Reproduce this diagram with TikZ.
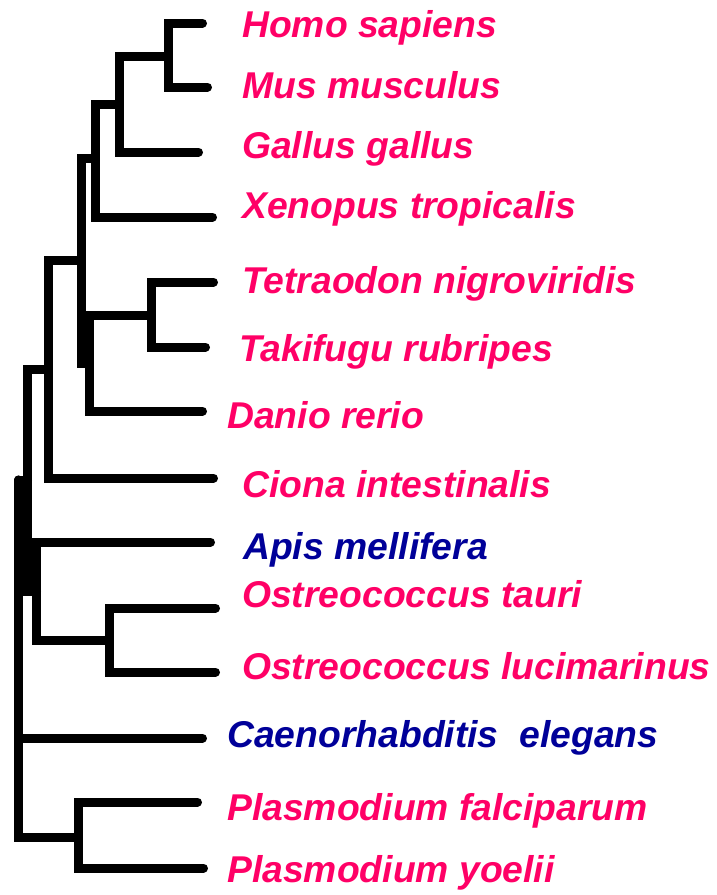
\documentclass[tikz,border=0pt]{standalone}
\usepackage{fontspec}
\setmainfont{Liberation Sans}
\usepackage{xcolor}
\usepackage{tikz}
\definecolor{taxpink}{HTML}{FF0066}
\definecolor{taxblue}{HTML}{000099}
\tikzset{
  br/.style  ={line width=9pt,line cap=round},
  tax/.style ={anchor=base west,inner sep=0pt,font=\fontsize{37.3}{40}\selectfont\bfseries\itshape},
  pk/.style  ={tax,text=taxpink},
  bl/.style  ={tax,text=taxblue},
}

\begin{document}
\begin{tikzpicture}[x=1pt,y=-1pt]
  \useasboundingbox[fill=white] (0,0) rectangle (716,895);
  % inner nodes of the tree
  \coordinate (root) at (18.5,480);
  \coordinate (bil)  at (27.5,480);
  \coordinate (chd)  at (48,369);
  \coordinate (vrt)  at (81,260);
  \coordinate (tet)  at (95,158);
  \coordinate (hmg)  at (119,104);
  \coordinate (hm)   at (168,56);
  \coordinate (fsh)  at (89,363);
  \coordinate (fsh2) at (151,315);
  \coordinate (apo)  at (36.5,591);
  \coordinate (ost)  at (109,640);
  \coordinate (pls)  at (78,837);
  % branch tips
  \coordinate (hsap) at (202.5,23);
  \coordinate (mmus) at (207.5,87);
  \coordinate (ggal) at (198.5,152);
  \coordinate (xtro) at (212.5,217);
  \coordinate (tnig) at (213.5,282);
  \coordinate (trub) at (205.5,347);
  \coordinate (drer) at (202.5,411);
  \coordinate (cint) at (213.5,478);
  \coordinate (amel) at (210.5,542);
  \coordinate (otau) at (215.5,608);
  \coordinate (oluc) at (215.5,672);
  \coordinate (cele) at (202.5,738);
  \coordinate (pfal) at (197.5,802);
  \coordinate (pyoe) at (203.5,868);
  % species names
  \node[pk] (hsap-l) at (242,37)  {Homo sapiens};
  \node[pk] (mmus-l) at (242,98)  {Mus musculus};
  \node[pk] (ggal-l) at (242,158) {Gallus gallus};
  \node[pk] (xtro-l) at (242,218) {Xenopus tropicalis};
  \node[pk] (tnig-l) at (242,293) {Tetraodon nigroviridis};
  \node[pk] (trub-l) at (239,361) {Takifugu rubripes};
  \node[pk] (drer-l) at (227,428) {Danio rerio};
  \node[pk] (cint-l) at (242,497) {Ciona intestinalis};
  \node[bl] (amel-l) at (243,559) {Apis mellifera};
  \node[pk] (otau-l) at (242,607) {Ostreococcus tauri};
  \node[pk] (oluc-l) at (242,679) {Ostreococcus lucimarinus};
  \node[bl] (cele-l) at (227,747) {Caenorhabditis\ \ elegans};
  \node[pk] (pfal-l) at (227,820) {Plasmodium falciparum};
  \node[pk] (pyoe-l) at (227,882) {Plasmodium yoelii};
  % branches
  \draw[br] (hm) |- (hsap);
  \draw[br] (hm) |- (mmus);
  \draw[br] (hmg) |- (hm);
  \draw[br] (hmg) |- (ggal);
  \draw[br] (tet) |- (hmg);
  \draw[br] (tet) |- (xtro);
  \draw[br] (fsh2) |- (tnig);
  \draw[br] (fsh2) |- (trub);
  \draw[br] (fsh) |- (fsh2);
  \draw[br] (fsh) |- (drer);
  \draw[br] (vrt) |- (tet);
  \draw[br] (vrt) |- (fsh);
  \draw[br] (chd) |- (vrt);
  \draw[br] (chd) |- (cint);
  \draw[br] (ost) |- (otau);
  \draw[br] (ost) |- (oluc);
  \draw[br] (apo) |- (amel);
  \draw[br] (apo) |- (ost);
  \draw[br] (bil) |- (chd);
  \draw[br] (bil) |- (apo);
  \draw[br] (pls) |- (pfal);
  \draw[br] (pls) |- (pyoe);
  \draw[br] (root) |- (bil);
  \draw[br] (root) |- (cele);
  \draw[br] (root) |- (pls);
\end{tikzpicture}
\end{document}
